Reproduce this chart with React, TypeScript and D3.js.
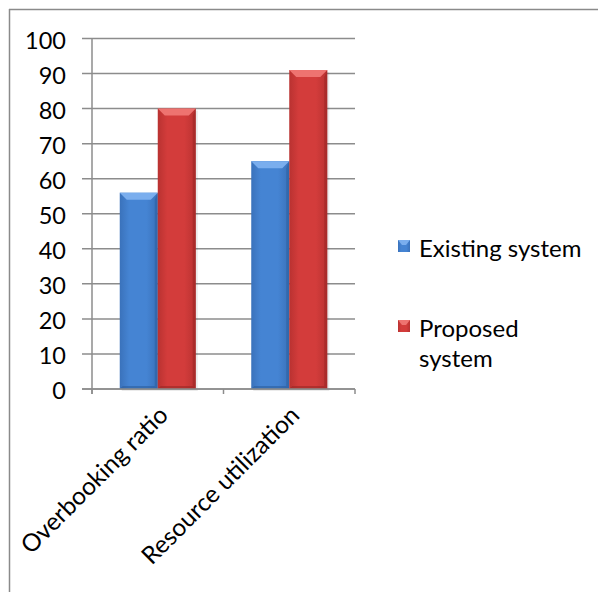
import * as d3 from "d3";
import React from "react";

const categories = ["Overbooking ratio", "Resource utilization"];
const seriesNames = ["Existing system", "Proposed system"];
const existingValues = [56, 65];
const proposedValues = [80, 91];
const yTicks = [0, 10, 20, 30, 40, 50, 60, 70, 80, 90, 100];

const width = 598;
const height = 592;
const FONT = "Lato, 'Open Sans', sans-serif";

const palettes = [
  { main: "#4584d3", light: "#7aaeee", dark: "#2c5e9e", edge: "#3a72bb" },
  { main: "#d33c3b", light: "#ee7370", dark: "#9b2725", edge: "#b93231" },
];

const App: React.FC = () => {
  const x0 = d3.scaleBand<string>().domain(categories).range([92, 355]);
  const x1 = d3
    .scaleBand<string>()
    .domain(seriesNames)
    .range([0, x0.bandwidth()])
    .paddingInner(0)
    .paddingOuter(0.73);
  const y = d3.scaleLinear().domain([0, 100]).range([389, 38.5]);

  const series = [existingValues, proposedValues];
  const bev = 7;

  return (
    <svg
      width={width}
      height={height}
      style={{ position: "absolute", left: 0, top: 0, background: "#fff" }}
      fontFamily={FONT}
    >
      <defs>
        {palettes.map((p, i) => (
          <linearGradient key={i} id={`grad${i}`} x1="0" x2="1" y1="0" y2="0">
            <stop offset="0" stopColor={p.edge} />
            <stop offset="0.25" stopColor={p.main} />
            <stop offset="0.7" stopColor={p.main} />
            <stop offset="1" stopColor={p.edge} />
          </linearGradient>
        ))}
      </defs>

      {/* outer frame (only top and left visible) */}
      <line x1={9} x2={width} y1={9.5} y2={9.5} stroke="#8a8a8a" strokeWidth={1.5} />
      <line x1={9.5} x2={9.5} y1={9} y2={height} stroke="#8a8a8a" strokeWidth={1.5} />

      {/* gridlines + y ticks */}
      {yTicks.map((t) => (
        <g key={t}>
          <line
            x1={82}
            x2={355}
            y1={y(t)}
            y2={y(t)}
            stroke="#8c8c8c"
            strokeWidth={1.5}
          />
          <text
            x={66}
            y={y(t) + 1}
            textAnchor="end"
            dominantBaseline="central"
            fontSize={23.5}
            fill="#000"
          >
            {t}
          </text>
        </g>
      ))}

      {/* axes */}
      <line x1={92} x2={92} y1={y(100)} y2={394} stroke="#8c8c8c" strokeWidth={1.5} />
      {[92, ...categories.map((c) => (x0(c) ?? 0) + x0.bandwidth())].map((xv, i) => (
        <line key={i} x1={xv} x2={xv} y1={y(0)} y2={394} stroke="#8c8c8c" strokeWidth={1.5} />
      ))}

      {/* bars */}
      {categories.map((c, ci) =>
        seriesNames.map((s, si) => {
          const bx = (x0(c) ?? 0) + (x1(s) ?? 0);
          const bw = x1.bandwidth();
          const top = y(series[si][ci]);
          const bottom = y(0);
          const p = palettes[si];
          return (
            <g key={`${c}-${s}`}>
              <rect x={bx + 2} y={top + 2} width={bw} height={bottom - top} fill="#000" opacity={0.08} />
              <rect x={bx} y={top} width={bw} height={bottom - top} fill={`url(#grad${si})`} />
              {/* top bevel */}
              <polygon
                points={`${bx},${top} ${bx + bw},${top} ${bx + bw - bev},${top + bev} ${bx + bev},${top + bev}`}
                fill={p.light}
              />
              {/* right bevel */}
              <polygon
                points={`${bx + bw},${top} ${bx + bw},${bottom} ${bx + bw - 3},${bottom - 3} ${bx + bw - 3},${top + bev}`}
                fill={p.dark}
                opacity={0.55}
              />
              {/* bottom bevel */}
              <polygon
                points={`${bx},${bottom} ${bx + bw},${bottom} ${bx + bw - 3},${bottom - 3} ${bx + 3},${bottom - 3}`}
                fill={p.dark}
                opacity={0.6}
              />
            </g>
          );
        })
      )}

      {/* x axis line */}
      <line x1={82} x2={355} y1={y(0)} y2={y(0)} stroke="#8c8c8c" strokeWidth={1.5} />

      {/* category labels */}
      {categories.map((c) => {
        const cx = (x0(c) ?? 0) + x0.bandwidth() / 2;
        return (
          <text
            key={c}
            transform={`translate(${cx + 5},${410}) rotate(-45)`}
            textAnchor="end"
            dominantBaseline="central"
            fontSize={24.5}
            fill="#000"
          >
            {c}
          </text>
        );
      })}

      {/* legend */}
      <g>
        <rect x={398} y={240} width={12} height={12} fill={`url(#grad0)`} />
        <polygon points="398,240 410,240 406,245 402,245" fill={palettes[0].light} />
        <text x={419} y={247} dominantBaseline="central" fontSize={24} fill="#000">
          Existing system
        </text>
        <rect x={398} y={320} width={12} height={12} fill={`url(#grad1)`} />
        <polygon points="398,320 410,320 406,325 402,325" fill={palettes[1].light} />
        <text x={419} y={327} dominantBaseline="central" fontSize={24} fill="#000">
          Proposed
        </text>
        <text x={419} y={357} dominantBaseline="central" fontSize={24} fill="#000">
          system
        </text>
      </g>
    </svg>
  );
};

export default App;
